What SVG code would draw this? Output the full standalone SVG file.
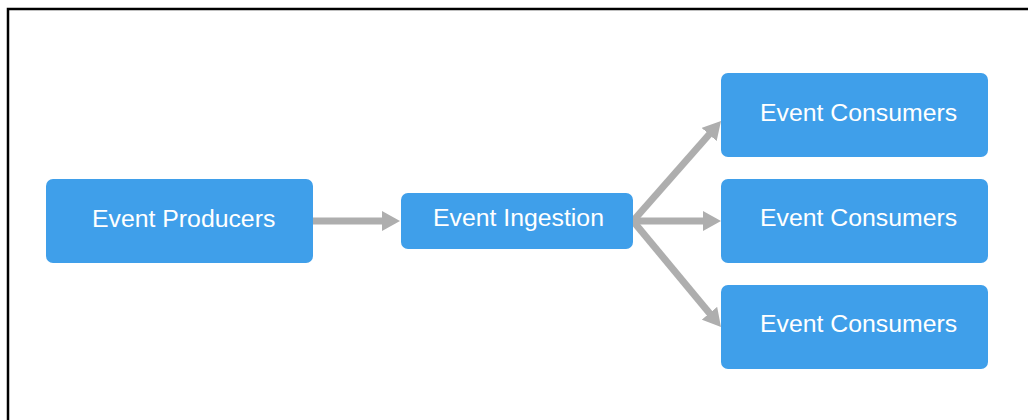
<svg xmlns="http://www.w3.org/2000/svg" width="1028" height="420" viewBox="0 0 1028 420">
  <style>
    .box { fill: #3f9fea; }
    .lbl { fill: #ffffff; font-family: "Liberation Sans", Arial, sans-serif; font-size: 24.8px; }
    .conn { stroke: #aeaeae; stroke-width: 7; fill: none; marker-end: url(#ah); }
  </style>
  <defs>
    <marker id="ah" markerUnits="userSpaceOnUse" markerWidth="18" markerHeight="20" refX="3" refY="10" orient="auto">
      <path d="M0,0 L18,10 L0,20 z" fill="#aeaeae"/>
    </marker>
  </defs>
  <rect x="0" y="0" width="1028" height="420" fill="#ffffff"/>
  <path d="M8,420 L8,9 L1028,9" fill="none" stroke="#000000" stroke-width="2.5"/>
  <g id="connectors">
    <line class="conn" x1="313" y1="221" x2="385" y2="221"/>
    <line class="conn" x1="633" y1="221" x2="706" y2="221"/>
    <line class="conn" x1="633" y1="221" x2="711.1" y2="132.3"/>
    <line class="conn" x1="633" y1="221" x2="711.4" y2="315.5"/>
  </g>
  <g id="producers">
    <rect class="box" x="46" y="179" width="267" height="84" rx="7"/>
    <text class="lbl" x="92" y="226.5">Event Producers</text>
  </g>
  <g id="ingestion">
    <rect class="box" x="401" y="193" width="232" height="56" rx="7"/>
    <text class="lbl" x="433" y="226">Event Ingestion</text>
  </g>
  <g id="consumers1">
    <rect class="box" x="721" y="73" width="267" height="84" rx="7"/>
    <text class="lbl" x="760" y="121">Event Consumers</text>
  </g>
  <g id="consumers2">
    <rect class="box" x="721" y="179" width="267" height="84" rx="7"/>
    <text class="lbl" x="760" y="226">Event Consumers</text>
  </g>
  <g id="consumers3">
    <rect class="box" x="721" y="285" width="267" height="84" rx="7"/>
    <text class="lbl" x="760" y="332">Event Consumers</text>
  </g>
</svg>
